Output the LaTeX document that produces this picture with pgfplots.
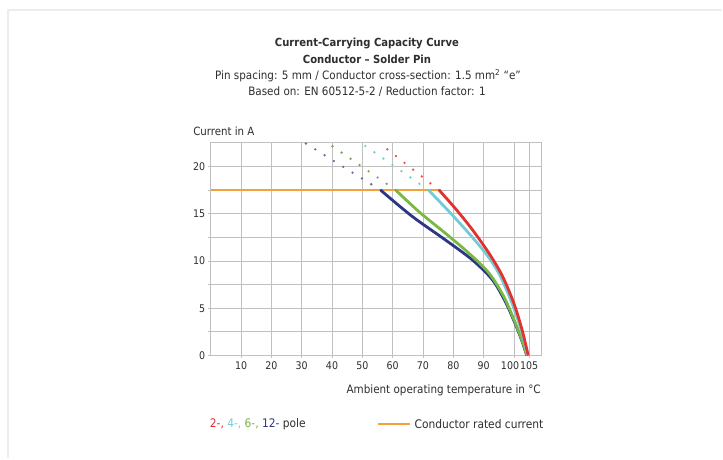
\documentclass[border=0pt]{standalone}
\usepackage{fontspec}
\setmainfont{DejaVu Sans Condensed}
\usepackage{pgfplots}
\pgfplotsset{compat=1.18}
\definecolor{cred}{HTML}{E2312F}
\definecolor{ccyan}{HTML}{72CBD6}
\definecolor{cgreen}{HTML}{78B843}
\definecolor{cnavy}{HTML}{2D3585}
\definecolor{corange}{HTML}{F2A23A}
\definecolor{txt}{HTML}{2E2E2E}
\definecolor{gridc}{HTML}{C0C0C0}
\begin{document}
\begin{tikzpicture}[x=1bp,y=1bp]
\fill[white] (0,0) rectangle (723,459);
\draw[black!7, line width=2bp] (8,0) -- (8,449) -- (723,449);
\begin{scope}[every node/.style={text=txt, font=\fontsize{11.6}{13}\selectfont}]
\node[font=\fontsize{11.2}{13}\selectfont\bfseries] at (367.5,415.5) {Current-Carrying Capacity Curve};
\node[font=\fontsize{11.2}{13}\selectfont\bfseries] at (367.5,399.5) {Conductor -- Solder Pin};
\node at (368.5,383.5) {Pin spacing: 5 mm / Conductor cross-section: 1.5 mm\textsuperscript{2} “e”};
\node at (367.5,367.5) {Based on: EN 60512-5-2 / Reduction factor: 1};
\node[anchor=west, font=\fontsize{11.4}{13}\selectfont] at (190,328) {Current in A};
\node[anchor=east, font=\fontsize{11.6}{13}\selectfont] at (545,68) {Ambient operating temperature in °C};
\node[anchor=west, font=\fontsize{11.9}{13}\selectfont, inner sep=0pt] at (210,34) {\textcolor{cred}{2-,} \textcolor{ccyan}{4-,} \textcolor{cgreen}{6-,} \textcolor{cnavy}{12-} pole};
\node[anchor=west, font=\fontsize{11.9}{13}\selectfont, inner sep=0pt] at (415,34) {Conductor rated current};
\end{scope}
\begin{axis}[
  at={(211bp,103bp)}, anchor=south west,
  scale only axis, width=331bp, height=213bp,
  xmin=0, xmax=109, ymin=0, ymax=22.5,
  clip=false,
  xtick={10,20,30,40,50,60,70,80,90,100,105},
  xticklabels={10,20,30,40,50,60,70,80,90,\makebox[26bp][l]{100},105},
  ytick={0,5,10,15,20},
  minor ytick={2.5,7.5,12.5,17.5},
  grid=both,
  major grid style={gridc, line width=0.8bp},
  minor grid style={gridc, line width=0.8bp},
  axis line style={gridc, line width=0.8bp},
  tick pos=left, tick align=outside,
  major tick length=2.5bp, minor tick length=2.5bp,
  tick style={gridc, line width=0.8bp},
  /pgf/number format/assume math mode=true,
  ticklabel style={text=txt, font=\fontsize{10.6}{13}\selectfont},
  yticklabel style={xshift=0.5bp},
]
% legend swatch for the conductor rated current (placed below the axis)
\addplot[corange, line width=2bp, forget plot] coordinates {(55.2,-7.29) (65.7,-7.29)};

\addplot[corange, line width=1.5bp, forget plot] coordinates {(0,17.5) (76,17.5)};
% dotted extensions
\addplot[cnavy!75, line width=2.6bp, line cap=round, dash pattern=on 0bp off 11bp, forget plot] coordinates {(56,17.5) (31,22.5)};
\addplot[cgreen!60!gray, line width=2.6bp, line cap=round, dash pattern=on 0bp off 11bp, forget plot] coordinates {(61,17.5) (38.5,22.5)};
\addplot[ccyan, line width=2.6bp, line cap=round, dash pattern=on 0bp off 11bp, forget plot] coordinates {(71.8,17.5) (49.5,22.5)};
\addplot[cred!85, line width=2.6bp, line cap=round, dash pattern=on 0bp off 11bp, forget plot] coordinates {(75.3,17.5) (55.5,22.5)};
% curves
\addplot[cnavy, line width=2.8bp, smooth, forget plot] coordinates {(56,17.5) (66.5,14.7) (77.5,12.2) (86.3,10.1) (92.9,8.0) (97.3,5.6) (100.6,3.2) (102.9,1.3) (104.2,0)};
\addplot[cgreen, line width=2.8bp, smooth, forget plot] coordinates {(61,17.5) (68.7,15.2) (77.5,12.9) (85.2,10.8) (91.8,8.7) (96.7,6.2) (100.5,3.4) (103.0,1.3) (104.3,0)};
\addplot[ccyan, line width=2.8bp, smooth, forget plot] coordinates {(71.8,17.5) (77.5,15.6) (84.1,13.3) (90.7,10.8) (95,8.7) (98.9,5.9) (102.0,3.1) (103.6,1.2) (104.5,0)};
\addplot[cred, line width=2.8bp, smooth, forget plot] coordinates {(75.3,17.5) (80.8,15.5) (86.3,13.3) (91.8,10.8) (96.2,8.4) (100,5.5) (102.6,2.8) (103.9,1.1) (104.7,0)};
\end{axis}
\end{tikzpicture}
\end{document}
